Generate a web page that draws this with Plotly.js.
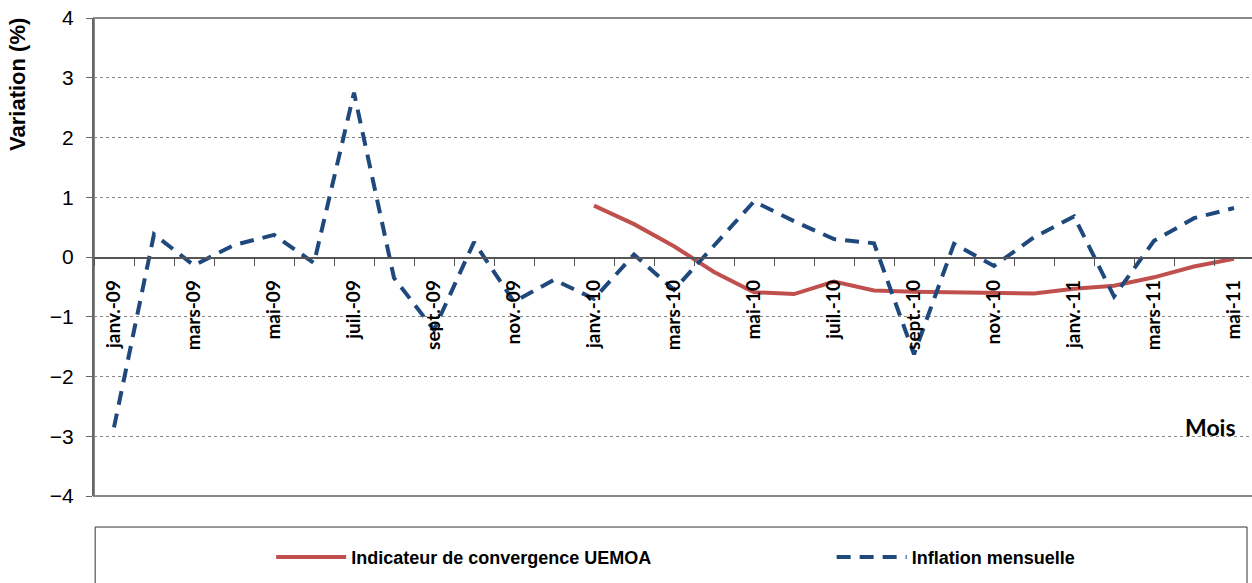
<!DOCTYPE html>
<html>
<head>
<meta charset="utf-8">
<script src="https://cdn.plot.ly/plotly-3.0.1.min.js"></script>
<style>html,body{margin:0;padding:0;background:#fff;}#chart{width:1252px;height:583px;}</style>
</head>
<body>
<div id="chart"></div>
<script>
const months = ["janv.-09","févr.-09","mars-09","avr.-09","mai-09","juin-09","juil.-09","août-09","sept.-09","oct.-09","nov.-09","déc.-09",
  "janv.-10","févr.-10","mars-10","avr.-10","mai-10","juin-10","juil.-10","août-10","sept.-10","oct.-10","nov.-10","déc.-10",
  "janv.-11","févr.-11","mars-11","avr.-11","mai-11"];
const inflationMensuelle = [-2.85,0.38,-0.14,0.2,0.37,-0.1,2.75,-0.35,-1.22,0.25,-0.75,-0.38,
  -0.7,0.04,-0.55,0.2,0.93,0.6,0.3,0.23,-1.63,0.22,-0.15,0.33,
  0.68,-0.66,0.27,0.65,0.82];
const indicateurUEMOA = [null,null,null,null,null,null,null,null,null,null,null,null,
  0.86,0.55,0.18,-0.25,-0.59,-0.62,-0.41,-0.56,-0.58,-0.59,-0.61,-0.61,
  -0.53,-0.48,-0.34,-0.16,-0.03];
const seriesNames = ["Indicateur de convergence UEMOA","Inflation mensuelle"];
const xIdx = months.map((m,i)=>i);
const labelIdx = xIdx.filter(i=>i%2===0);
const labelText = labelIdx.map(i=>months[i]);

const legFont = {family:'Liberation Sans, Arial, sans-serif', size:18, color:'#000', weight:'bold'};
const traces = [
  {x:xIdx, y:indicateurUEMOA, name:seriesNames[0], type:'scatter', mode:'lines',
   line:{color:'#C0504D', width:4}, connectgaps:false, legend:'legend'},
  {x:xIdx, y:inflationMensuelle, name:seriesNames[1], type:'scatter', mode:'lines',
   line:{color:'#1F497D', width:4, dash:'14px,9px'}, legend:'legend2'}
];
const layout = {
  width:1252, height:583,
  margin:{l:94, r:0, t:18, b:87},
  paper_bgcolor:'#fff', plot_bgcolor:'#fff',
  showlegend:true,
  legend:{orientation:'h', x:0.153, y:-0.128, xanchor:'left', yanchor:'middle', itemwidth:70,
    font:legFont, bgcolor:'rgba(0,0,0,0)'},
  legend2:{orientation:'h', x:0.637, y:-0.128, xanchor:'left', yanchor:'middle', itemwidth:70,
    font:legFont, bgcolor:'rgba(0,0,0,0)'},
  xaxis:{range:[-0.5,28.45], anchor:'free', position:0.5, showline:true, linecolor:'#555', linewidth:1.5,
    showgrid:false, zeroline:false, tickmode:'array', tickvals:labelIdx, ticktext:labelText,
    tickangle:-90, ticks:'', ticklabelstandoff:14,
    tickfont:{family:'Lato, Open Sans, sans-serif', size:19, color:'#000', weight:'bold'},
    minor:{ticks:'outside', ticklen:7, tick0:-0.5, dtick:1, tickcolor:'#555', tickwidth:1, showgrid:false}},
  yaxis:{range:[-4,4], dtick:1, tick0:0, showgrid:true, gridcolor:'#888', griddash:'dot', gridwidth:1,
    showline:true, linecolor:'#666', linewidth:2, ticks:'outside', ticklen:6, tickcolor:'#666',
    zeroline:false, ticklabelstandoff:8,
    tickfont:{family:'Liberation Sans, Arial, sans-serif', size:21, color:'#000'}},
  shapes:[
    {type:'rect', xref:'paper', yref:'paper', x0:0, x1:1.01, y0:0, y1:1, line:{color:'#888', width:2}, layer:'below'},
    {type:'rect', xref:'paper', yref:'paper', x0:0.001, x1:0.9957, y0:-0.0649, y1:-0.3, line:{color:'#333', width:1}, layer:'below'}
  ],
  annotations:[
    {text:'Variation (%)', xref:'paper', yref:'paper', x:-0.0656, y:0.86, textangle:-90, showarrow:false,
     xanchor:'center', yanchor:'middle',
     font:{family:'Liberation Sans, Arial, sans-serif', size:22, color:'#000', weight:'bold'}},
    {text:'Mois', xref:'paper', yref:'paper', x:0.988, y:0.144, showarrow:false, xanchor:'right', yanchor:'middle',
     font:{family:'Lato, sans-serif', size:23, color:'#000', weight:'bold'}}
  ]
};
Plotly.newPlot('chart', traces, layout, {displayModeBar:false, staticPlot:true});
</script>
</body>
</html>
